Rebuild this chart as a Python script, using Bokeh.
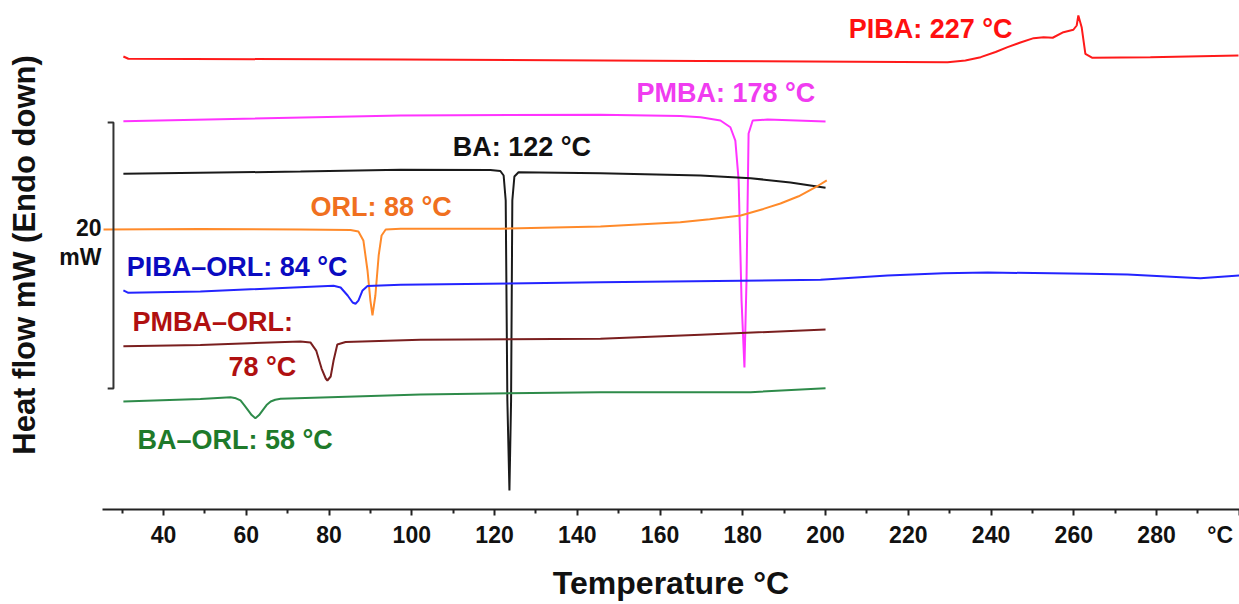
from bokeh.plotting import figure
from bokeh.models import Range1d, FixedTicker
from bokeh.core.properties import value
from bokeh.embed import file_html
from bokeh.resources import INLINE

FONT = "Liberation Sans"

# ---- DSC curves: temperature (°C) and stacked heat flow (mW, offset per curve) ----
T_PIBA = [30.3, 31.5, 97.3, 169.8, 229.5, 233.8, 237.5, 241.1, 244.0, 247.1, 250.3,
          252.7, 254.9, 257.5, 259.9, 260.7, 261.1, 261.9, 262.8, 264.5, 278.5, 299.8]
HF_PIBA = [34.06, 33.89, 33.83, 33.72, 33.63, 33.76, 34.01, 34.40, 34.76, 35.11, 35.44,
           35.51, 35.47, 35.89, 36.07, 36.39, 37.14, 36.26, 34.26, 33.96, 34.01, 34.14]

T_PMBA = [30.3, 97.3, 145.6, 164.9, 169.8, 174.6, 177.0, 178.2, 179.0, 179.7, 180.4,
          180.9, 181.4, 182.4, 186.0, 200.0]
HF_PMBA = [29.20, 29.62, 29.68, 29.59, 29.50, 29.25, 28.74, 27.74, 24.74, 15.71, 10.68,
           17.22, 28.27, 29.25, 29.32, 29.17]

T_BA = [30.3, 73.1, 97.3, 119.0, 121.4, 122.2, 122.7, 123.1, 123.6, 124.0, 124.3,
        124.8, 125.8, 145.6, 169.8, 181.9, 191.5, 200.0]
HF_BA = [25.24, 25.41, 25.54, 25.53, 25.45, 25.11, 23.23, 8.20, 1.43, 8.20, 23.23,
         25.04, 25.36, 25.29, 25.11, 24.91, 24.59, 24.19]

T_ORL = [25.5, 48.9, 73.1, 85.2, 87.1, 88.3, 89.3, 90.0, 90.5, 91.2, 92.0, 92.7, 93.7,
         97.3, 121.4, 145.6, 164.9, 172.0, 179.5, 185.0, 189.1, 193.5, 197.6, 200.3]
HF_ORL = [21.05, 21.09, 21.05, 21.02, 20.90, 20.23, 17.97, 15.71, 14.59, 16.09, 19.10,
          20.60, 21.05, 21.11, 21.11, 21.28, 21.60, 21.82, 22.11, 22.60, 23.01, 23.55,
          24.23, 24.74]

T_PIBA_ORL = [30.3, 31.5, 48.9, 81.1, 82.8, 84.5, 85.7, 86.4, 87.1, 88.1, 89.3, 97.3,
              145.6, 198.8, 215.0, 228.5, 239.2, 263.3, 273.0, 290.6, 300.0]
HF_PIBA_ORL = [16.47, 16.29, 16.39, 16.82, 16.69, 16.09, 15.56, 15.47, 15.71, 16.47, 16.80,
               16.89, 17.09, 17.27, 17.59, 17.77, 17.82, 17.72, 17.67, 17.39, 17.59]

T_PMBA_ORL = [30.3, 48.9, 73.1, 75.5, 76.9, 78.2, 79.2, 79.6, 80.4, 81.1, 82.0, 84.0,
              102.1, 145.6, 169.8, 200.0]
HF_PMBA_ORL = [12.28, 12.37, 12.63, 12.56, 11.95, 10.60, 9.85, 9.70, 10.00, 11.20, 12.41,
               12.59, 12.76, 12.83, 13.14, 13.53]

T_BA_ORL = [30.3, 48.9, 56.2, 57.5, 58.6, 59.5, 60.5, 61.3, 62.2, 63.1, 63.9, 64.9,
            65.9, 67.0, 68.3, 102.1, 145.6, 181.9, 200.0]
HF_BA_ORL = [8.12, 8.31, 8.44, 8.36, 8.20, 7.85, 7.44, 7.10, 6.86, 7.10, 7.44, 7.85,
             8.12, 8.25, 8.32, 8.65, 8.82, 8.82, 9.12]

# annotation texts
LABELS = ["PIBA: 227 °C", "PMBA: 178 °C", "BA: 122 °C", "ORL: 88 °C",
          "PIBA–ORL: 84 °C", "PMBA–ORL:", "78 °C", "BA–ORL: 58 °C"]
LABEL_T = [205.6, 154.3, 109.9, 75.5, 31.1, 32.5, 55.7, 33.7]
LABEL_HF = [36.09, 31.35, 27.22, 22.78, 18.20, 14.06, 10.68, 5.26]
LABEL_COLORS = ["#ff1010", "#f03cf0", "#111111", "#f07020", "#0a0ac0", "#b01010",
                "#b01010", "#1e7a2a"]

# x-axis ticks
MAJOR_TICKS = [40, 60, 80, 100, 120, 140, 160, 180, 200, 220, 240, 260, 280, 300]
MINOR_TICKS = [30, 50, 70, 90, 110, 130, 150, 170, 190, 210, 230, 250, 270, 290]
UNIT_LABEL = "°C"

# 20 mW scale bar
SCALE_MW = 20
SCALE_T = 27.9
SCALE_BOTTOM = 9.10
SCALE_TEXT = ["20", "mW"]
SCALE_TEXT_HF = [21.2, 18.95]

curves = [
    (T_PIBA, HF_PIBA, "#ff1a1a"),
    (T_PMBA, HF_PMBA, "#ff33ff"),
    (T_BA, HF_BA, "#1a1a1a"),
    (T_ORL, HF_ORL, "#ff8a2a"),
    (T_PIBA_ORL, HF_PIBA_ORL, "#2424ff"),
    (T_PMBA_ORL, HF_PMBA_ORL, "#7a1f1f"),
    (T_BA_ORL, HF_BA_ORL, "#2e8b4a"),
]

p = figure(width=1239, height=604, output_backend="svg", toolbar_location=None,
           x_range=Range1d(25.25, 300.05), y_range=Range1d(0, 38.27),
           min_border_left=102, min_border_right=0, min_border_top=0,
           min_border_bottom=95)
p.outline_line_color = None
p.xgrid.visible = False
p.ygrid.visible = False
p.background_fill_color = "white"
p.border_fill_color = "white"

for t, hf, c in curves:
    p.line(t, hf, line_color=c, line_width=2)

# scale bar
p.line([SCALE_T - 1.4, SCALE_T, SCALE_T, SCALE_T - 1.4],
       [SCALE_BOTTOM + SCALE_MW, SCALE_BOTTOM + SCALE_MW, SCALE_BOTTOM, SCALE_BOTTOM],
       line_color="#333333", line_width=2)

p.text(x=LABEL_T, y=LABEL_HF, text=LABELS, text_color=LABEL_COLORS,
       text_font=value(FONT), text_font_style="bold", text_font_size="27px",
       text_align="left", text_baseline="middle")

xa = p.xaxis[0]
xa.ticker = FixedTicker(ticks=MAJOR_TICKS, minor_ticks=MINOR_TICKS)
# the unit sits at the last tick; pad so that it stays inside the page
xa.major_label_overrides = {300: UNIT_LABEL + "\u00a0"}
xa.axis_line_width = 2
xa.axis_line_color = "#222222"
xa.major_tick_line_width = 2
xa.minor_tick_line_width = 2
xa.major_tick_line_color = "#222222"
xa.minor_tick_line_color = "#222222"
xa.major_tick_in = 0
xa.major_tick_out = 6
xa.minor_tick_in = 0
xa.minor_tick_out = 4
xa.major_label_standoff = 6
xa.major_label_text_font = FONT
xa.major_label_text_font_style = "bold"
xa.major_label_text_font_size = "23px"
xa.major_label_text_color = "#111111"
xa.axis_label = "Temperature °C"
xa.axis_label_text_font = FONT
xa.axis_label_text_font_style = "bold"
xa.axis_label_text_font_size = "32px"
xa.axis_label_text_color = "#111111"
xa.axis_label_standoff = 14

ya = p.yaxis[0]
ya.ticker = FixedTicker(ticks=SCALE_TEXT_HF)
ya.major_label_overrides = dict(zip(SCALE_TEXT_HF, SCALE_TEXT))
ya.axis_line_color = None
ya.major_tick_line_color = None
ya.minor_tick_line_color = None
ya.major_tick_in = 0
ya.major_tick_out = 0
ya.major_label_standoff = 1
ya.major_label_text_font = FONT
ya.major_label_text_font_style = "bold"
ya.major_label_text_font_size = "23px"
ya.major_label_text_color = "#111111"
ya.axis_label = "Heat flow mW (Endo down)"
ya.axis_label_text_font = FONT
ya.axis_label_text_font_style = "bold"
ya.axis_label_text_font_size = "31px"
ya.axis_label_text_color = "#111111"
ya.axis_label_standoff = 14

open("out.html", "w").write(file_html(p, INLINE))
